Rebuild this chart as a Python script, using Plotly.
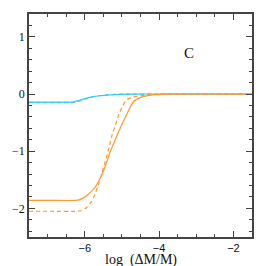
import plotly.graph_objects as go

# Cyan series (solid and dashed nearly identical)
cyan_x = [-7.5, -6.8, -6.4, -6.3, -6.2, -6.1, -6.0, -5.8, -5.6, -5.4, -5.2, -4.8, -4.0, -1.5]
cyan_y = [-0.14, -0.14, -0.14, -0.135, -0.12, -0.10, -0.08, -0.05, -0.03, -0.02, -0.01, 0.0, 0.0, 0.0]
cyan_dash_y = [-0.15, -0.15, -0.15, -0.145, -0.13, -0.11, -0.09, -0.05, -0.03, -0.015, -0.005, 0.0, 0.0, 0.0]

# Orange solid
or_x = [-7.5, -6.9, -6.25, -6.15, -6.05, -5.95, -5.85, -5.72, -5.63, -5.54, -5.42, -5.31, -5.2, -5.09, -4.97, -4.86, -4.77, -4.68, -4.57, -4.45, -4.23, -3.8, -1.5]
or_y = [-1.86, -1.86, -1.86, -1.85, -1.82, -1.78, -1.72, -1.63, -1.53, -1.41, -1.21, -1.00, -0.83, -0.66, -0.49, -0.34, -0.22, -0.13, -0.08, -0.05, -0.02, 0.0, 0.0]

# Orange dashed
od_x = [-7.5, -6.9, -6.2, -6.1, -6.0, -5.94, -5.85, -5.76, -5.7, -5.63, -5.54, -5.45, -5.35, -5.26, -5.17, -5.09, -5.0, -4.91, -4.82, -4.72, -4.6, -4.5, -4.2, -1.5]
od_y = [-2.05, -2.05, -2.05, -2.04, -2.01, -1.98, -1.91, -1.81, -1.71, -1.58, -1.39, -1.18, -0.94, -0.71, -0.53, -0.37, -0.23, -0.13, -0.08, -0.06, -0.04, -0.03, -0.01, 0.0]

ORANGE = "#ff9933"
CYAN = "#33ccee"
DASH = "4px,3px"

fig = go.Figure()
fig.add_trace(go.Scatter(x=cyan_x, y=cyan_y, mode="lines", line=dict(color=CYAN, width=1.2, shape="spline", smoothing=0.6)))
fig.add_trace(go.Scatter(x=cyan_x, y=cyan_dash_y, mode="lines", line=dict(color=CYAN, width=1.2, dash=DASH, shape="spline", smoothing=0.6)))
fig.add_trace(go.Scatter(x=or_x, y=or_y, mode="lines", line=dict(color=ORANGE, width=1.2, shape="spline", smoothing=0.6)))
fig.add_trace(go.Scatter(x=od_x, y=od_y, mode="lines", line=dict(color=ORANGE, width=1.2, dash=DASH, shape="spline", smoothing=0.6)))

axis_common = dict(
    showgrid=False, zeroline=False, showline=True, linecolor="#444", linewidth=1.5,
    mirror="ticks", ticks="inside", ticklen=6, tickwidth=1.2, tickcolor="#444",
)

fig.update_xaxes(range=[-7.5, -1.5], tick0=-6, dtick=2,
                 tickfont=dict(family="Liberation Sans", size=11, color="#111"),
                 minor=dict(dtick=0.5, ticks="inside", ticklen=3, tickcolor="#444", tickwidth=1),
                 **axis_common)
fig.update_yaxes(range=[-2.5, 1.4], tick0=0, dtick=1,
                 tickfont=dict(family="Liberation Serif", size=12, color="#111"),
                 minor=dict(dtick=0.2, ticks="inside", ticklen=3, tickcolor="#444", tickwidth=1),
                 **axis_common)

fig.add_annotation(x=0.5, y=-0.06, xref="paper", yref="paper", text="log&nbsp; (ΔM/M)",
                   showarrow=False, yanchor="top", font=dict(family="Liberation Serif", size=14, color="#111"))
fig.add_annotation(x=0.75, y=0.87, xref="paper", yref="paper", text="C",
                   showarrow=False, font=dict(family="Liberation Serif", size=15, color="#111"))

fig.update_layout(width=266, height=266, showlegend=False,
                  margin=dict(l=29, r=14, t=14, b=29),
                  plot_bgcolor="white", paper_bgcolor="white")
fig.write_html("out.html", config={"displayModeBar": False},
               post_script="document.body.style.margin='0';document.body.style.padding='0';")
